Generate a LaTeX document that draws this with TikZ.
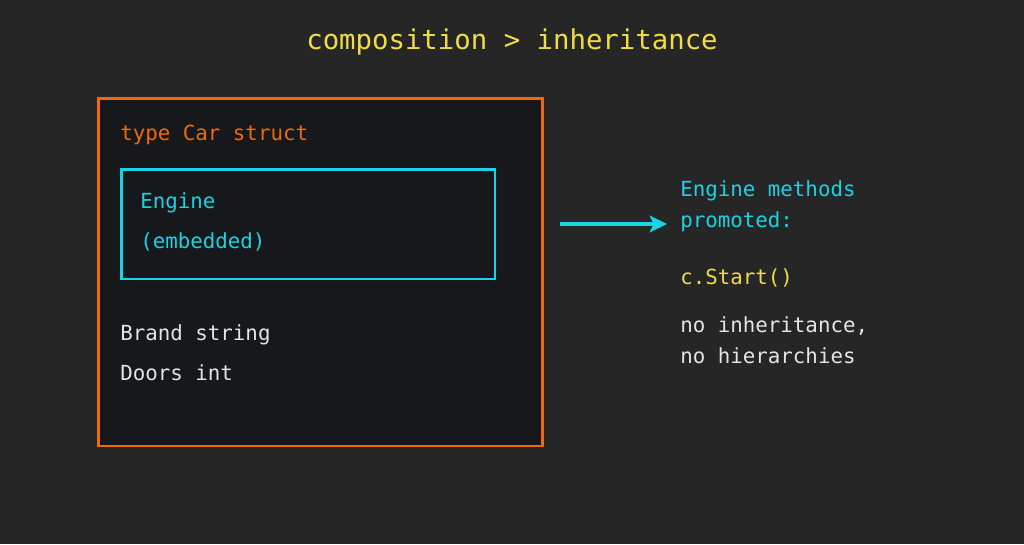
\documentclass[tikz,border=0pt]{standalone}
\usepackage{fontspec}
\newfontfamily\codefont{DejaVu Sans Mono}
\usetikzlibrary{arrows.meta}
\definecolor{bgcol}{HTML}{262626}
\definecolor{panelcol}{HTML}{17181B}
\definecolor{carorange}{HTML}{F06A0A}
\definecolor{enginecyan}{HTML}{1AD3E3}
\definecolor{titleyellow}{HTML}{F0DC46}
\definecolor{plaintext}{HTML}{E4E4E4}
\tikzset{
  code/.style={anchor=base west,inner sep=0pt,font=\codefont\fontsize{15.6pt}{18pt}\selectfont},
}

\begin{document}
\begin{tikzpicture}[x=0.75pt,y=-0.75pt]
\fill[bgcol] (0,0) rectangle (1024,544);
\useasboundingbox (0,0) rectangle (1024,544);

% title
\node[anchor=base,inner sep=0pt,font=\codefont\fontsize{20.5pt}{24pt}\selectfont,text=titleyellow] (title) at (512,49) {composition > inheritance};

% the struct
\draw[carorange,line width=2.2pt,fill=panelcol] (98.5,98.5) rectangle (542.5,446);
\node[code,text=carorange] (cartype) at (120,140) {type Car struct};
\draw[enginecyan,line width=1.6pt] (121.5,169.5) rectangle (495,279);
\node[code,text=enginecyan] (engine) at (140,208) {Engine};
\node[code,text=enginecyan] (embedded) at (140,248) {(embedded)};
\node[code,text=plaintext] (brand) at (120,340) {Brand string};
\node[code,text=plaintext] (doors) at (120,380) {Doors int};

% promoted methods
\coordinate (arrowstart) at (560,224);
\coordinate (arrowend) at (667,224);
\draw[enginecyan,line width=2.4pt,-{Stealth[length=13pt,width=12.5pt,inset=3pt]}] (arrowstart) -- (arrowend);
\node[code,text=enginecyan] (methods) at (680,196) {Engine methods};
\node[code,text=enginecyan] (promoted) at (680,227) {promoted:};
\node[code,text=titleyellow] (start) at (680,284) {c.Start()};
\node[code,text=plaintext] (noinh) at (680,332) {no inheritance,};
\node[code,text=plaintext] (nohier) at (680,363) {no hierarchies};
\end{tikzpicture}
\end{document}
